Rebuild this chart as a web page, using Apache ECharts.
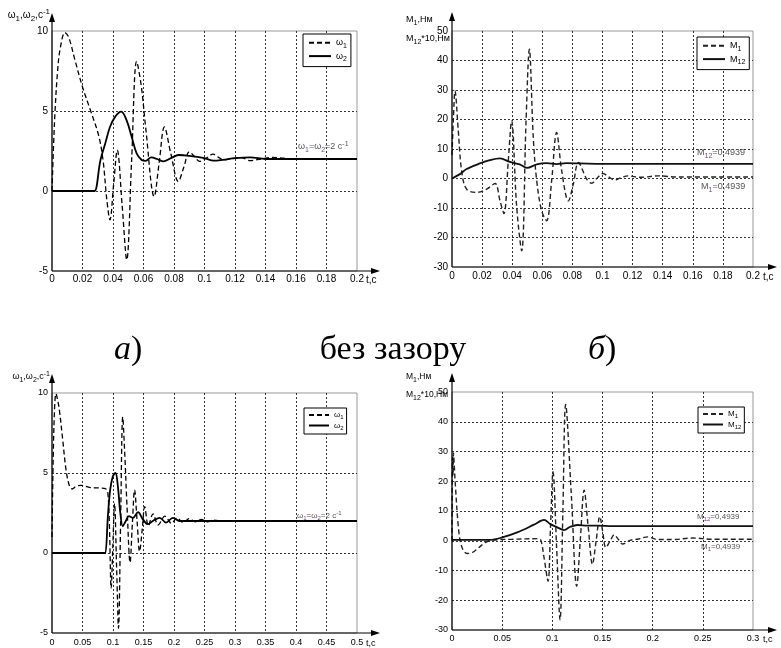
<!DOCTYPE html>
<html><head><meta charset="utf-8">
<script src="https://cdn.jsdelivr.net/npm/echarts@6/dist/echarts.min.js"></script>
<style>html,body{margin:0;padding:0;background:#fff}#c{width:781px;height:648px}</style>
</head><body><div id="c"></div>
<script>
// ---------- DATA ----------
// (a) top-left: angular speeds, no gap
const tA_w1 = [0,0.001,0.002,0.0035,0.0052,0.0085,0.011,0.015,0.02,0.025,0.0305,0.0335,0.036,0.038,0.0404,0.0428,0.046,0.049,0.0522,0.0555,0.0585,0.0615,0.067,0.0703,0.0737,0.078,0.0828,0.0865,0.09,0.0935,0.0968,0.101,0.1056,0.109,0.1126,0.118,0.124,0.13,0.137,0.145,0.152,0.16,0.17,0.2];
const vA_w1 = [0,2.8,5.0,7.3,8.8,9.9,9.6,8.2,6.5,5.1,3.5,1.9,-0.6,-1.8,0.4,2.55,-0.9,-4.3,1.9,8.1,6.6,3.9,-0.35,1.8,4.0,2.3,0.6,1.5,2.45,2.15,1.85,2.05,2.3,2.12,1.95,2.02,2.08,1.9,2.0,2.1,2.05,2.0,2.0,2.0];
const tA_w2 = [0,0.0265,0.028,0.0317,0.035,0.038,0.0415,0.0454,0.049,0.0522,0.0555,0.0588,0.0615,0.065,0.069,0.073,0.078,0.083,0.09,0.1,0.106,0.112,0.12,0.13,0.14,0.2];
const vA_w2 = [0,0,0,1.9,3.0,4.0,4.65,4.96,4.4,3.4,2.35,1.94,1.88,2.1,2.0,1.85,2.05,2.25,2.2,2.05,1.9,1.95,2.05,2.1,2.0,2.0];
// (b) top-right: torques, no gap
const tB_m1 = [0,0.0009,0.002,0.0042,0.0064,0.0097,0.0164,0.023,0.0286,0.0319,0.0345,0.0374,0.0396,0.043,0.0463,0.0492,0.0514,0.054,0.0563,0.0596,0.0629,0.0662,0.0695,0.0729,0.0773,0.0806,0.084,0.0895,0.0928,0.0965,0.1003,0.104,0.108,0.112,0.117,0.125,0.137,0.15,0.2];
const vB_m1 = [8,20,29.7,16,2.6,-3.6,-4.7,-3.6,-1.7,-7.6,-11.9,6,19.5,-9.8,-24.5,19.5,43.8,13.9,-0.8,-11,-14.3,-0.8,15.6,2.6,-7.6,-1.9,5.4,-0.2,-1.6,0.2,1.7,0.6,-0.5,0.2,0.9,0.4,0.9,0.5,0.5];
const tB_m12 = [0,0.005,0.0097,0.0186,0.0252,0.0319,0.0385,0.045,0.0498,0.0563,0.063,0.0695,0.076,0.085,0.1,0.2];
const vB_m12 = [0,1.4,3.2,5.1,6.2,6.8,5.6,4.8,3.6,4.8,5.2,4.9,5.2,5.1,4.94,4.94];
// (c) bottom-left: angular speeds, with gap
const tC_w1 = [0,0.002,0.0045,0.0066,0.009,0.012,0.0175,0.023,0.0285,0.033,0.0395,0.0477,0.061,0.078,0.0885,0.0915,0.094,0.097,0.0998,0.1025,0.106,0.109,0.1125,0.116,0.1195,0.123,0.128,0.1317,0.1354,0.1395,0.1436,0.148,0.152,0.158,0.1656,0.174,0.185,0.196,0.205,0.215,0.225,0.235,0.245,0.255,0.265,0.28,0.35];
const vC_w1 = [1,6,9.3,9.96,9.6,8.96,7.1,5.2,4.2,4.0,4.17,4.23,4.1,4.06,4.0,3.75,1.9,-2.2,0.5,3.1,-1.0,-4.7,2.0,8.5,6.0,2.9,-0.6,1.8,3.95,2.0,0.1,1.5,2.9,1.7,2.45,1.75,2.3,1.85,2.2,1.9,2.15,1.95,2.1,1.95,2.05,2.0,2.0];
const tC_w2 = [0,0.0855,0.0875,0.0916,0.0954,0.0998,0.104,0.108,0.112,0.116,0.121,0.126,0.1327,0.141,0.149,0.157,0.167,0.1765,0.187,0.198,0.209,0.22,0.5];
const vC_w2 = [0,0,0,2.3,3.96,4.8,5.0,4.17,2.5,1.67,2.0,2.3,2.2,2.55,2.1,1.8,2.05,2.2,1.9,2.2,2.0,2.0,2.0];
// (d) bottom-right: torques, with gap
const tD_m1 = [0,0.0005,0.001,0.0015,0.002,0.0033,0.0067,0.01,0.015,0.02,0.0267,0.033,0.04,0.06,0.085,0.0885,0.0917,0.0957,0.0982,0.1007,0.1042,0.1077,0.1105,0.1133,0.119,0.1243,0.128,0.1317,0.1358,0.14,0.1437,0.1473,0.1503,0.1533,0.1575,0.1617,0.1658,0.17,0.178,0.186,0.195,0.205,0.22,0.24,0.26,0.3];
const vD_m1 = [0,28,22,29.5,27,19,3.4,-2.3,-4.3,-4.0,-2.3,-0.6,0.2,0.5,0.7,0.2,-5.6,-13.6,4.8,23.2,-1.7,-26.6,9.6,45.8,15,-15.3,0.85,17,4.5,-7.9,0.1,8.1,2.9,-2.3,-0.15,2.0,0.45,-1.1,0.2,0.6,1.3,0.4,0.4,0.9,0.5,0.5];
const tD_m12 = [0,0.038,0.05,0.065,0.0817,0.0917,0.098,0.105,0.1117,0.118,0.125,0.135,0.145,0.16,0.3];
const vD_m12 = [0.3,0.3,1.1,2.8,5.4,7.0,5.6,4.5,3.6,4.7,5.3,5.1,5.1,4.94,4.94];
// axis ranges [min, max, interval]
const xRanges = [[0,0.2,0.02],[0,0.2,0.02],[0,0.5,0.05],[0,0.3,0.05]];
const yRanges = [[-5,10,5],[-30,50,10],[-5,10,5],[-30,50,10]];

// ---------- LAYOUT ----------
const GRID = [
  {left:52, top:31, width:305, height:240},
  {left:452, top:31, width:301, height:236},
  {left:52, top:393, width:305, height:240},
  {left:452, top:392, width:301, height:238}];
const ARROW = [{top:13,right:380},{top:12,right:777},{top:374,right:380},{top:373,right:777}];
const LABEL_FS = [10,10,9,9];
const LABEL_MARGIN = [3,4,5,4];
const NAME_GAP = [9,10,9,10];
const F = '"Liberation Sans", Arial, sans-serif';

const zip = (t,v) => t.map((x,i)=>[x, v[i]]);

function rich(sz, useFill, mainCol, subCol) {
  const c = useFill ? 'fill' : 'color';
  const sub = Math.round(sz*0.78);
  return {
    m: {fontSize:sz, lineHeight:sz+1, fontFamily:F, [c]:mainCol},
    s: {fontSize:sub, padding:[Math.round(sz*0.65),0,0,0], fontFamily:F, [c]:subCol},
    p: {fontSize:sub, verticalAlign:'top', fontFamily:F, [c]:mainCol}
  };
}

const dash = [5,3];
function mk(name, i, t, v, dashed, color, width) {
  return {type:'line', name, xAxisIndex:i, yAxisIndex:i, data:zip(t,v),
    showSymbol:false, symbol:'none', smooth:0.35, silent:true, animation:false,
    color, itemStyle:{color},
    lineStyle:{color, width, type: dashed ? dash : 'solid'}, z: dashed ? 3 : 4};
}
const series = [
  mk('ω1',0,tA_w1,vA_w1,true,'#000',1.3),
  mk('ω2',0,tA_w2,vA_w2,false,'#000',1.8),
  mk('M1',1,tB_m1,vB_m1,true,'#222',1.4),
  mk('M12',1,tB_m12,vB_m12,false,'#111',1.8),
  mk('ω1',2,tC_w1,vC_w1,true,'#000',1.3),
  mk('ω2',2,tC_w2,vC_w2,false,'#000',1.8),
  mk('M1',3,tD_m1,vD_m1,true,'#222',1.4),
  mk('M12',3,tD_m12,vD_m12,false,'#111',1.8)
];

const xAxis = GRID.map((g,i)=>({type:'value', gridIndex:i, min:xRanges[i][0], max:xRanges[i][1], interval:xRanges[i][2],
  axisLine:{show:false, onZero:false}, axisTick:{show:false},
  splitLine:{show:true, showMinLine:false, showMaxLine:false, lineStyle:{color:'#333', width:1, type:[2,2]}},
  axisLabel:{fontSize:LABEL_FS[i], color:'#000', fontFamily:F, margin:LABEL_MARGIN[i]}}));
const yAxis = GRID.map((g,i)=>({type:'value', gridIndex:i, min:yRanges[i][0], max:yRanges[i][1], interval:yRanges[i][2],
  axisLine:{show:false, onZero:false}, axisTick:{show:false},
  splitLine:{show:true, showMinLine:false, showMaxLine:false, lineStyle:{color:'#333', width:1, type:[2,2]}},
  axisLabel:{fontSize:LABEL_FS[i], color:'#000', fontFamily:F, margin:4}}));

const LEG = {'ω1':'{m|ω}{s|1}','ω2':'{m|ω}{s|2}','M1':'{m|M}{s|1}','M12':'{m|M}{s|12}'};
function legend(data, left, top, big) {
  return {data, left, top, orient:'vertical', selectedMode:false,
    backgroundColor:'#fff', borderColor:'#000', borderWidth:1,
    padding: big ? [4,4,4,5] : [3,3,3,4], itemGap: big ? 2 : 1,
    itemWidth: big ? 22 : 20, itemHeight: big ? 12 : 10,
    itemStyle:{opacity:0},
    formatter: n => LEG[n],
    textStyle:{color:'#000', fontFamily:F, rich: rich(big ? 9 : 8, false, '#000', '#000')}};
}
const legends = [
  legend(['ω1','ω2'], 303, 34, true),
  legend(['M1','M12'], 697, 37, true),
  legend(['ω1','ω2'], 304, 408, false),
  legend(['M1','M12'], 698, 407, false)
];

// ---------- GRAPHIC (axes with arrows, titles, captions) ----------
const G = [];
GRID.forEach((g,i)=>{
  const b = g.top + g.height, a = ARROW[i];
  const st = {stroke:'#000', lineWidth:1.2};
  G.push({type:'line', silent:true, z:50, shape:{x1:g.left, y1:b, x2:g.left, y2:a.top+7}, style:st});
  G.push({type:'polygon', silent:true, z:50, shape:{points:[[g.left,a.top],[g.left-3,a.top+9],[g.left+3,a.top+9]]}, style:{fill:'#000'}});
  G.push({type:'line', silent:true, z:50, shape:{x1:g.left, y1:b, x2:a.right-7, y2:b}, style:st});
  G.push({type:'polygon', silent:true, z:50, shape:{points:[[a.right,b],[a.right-9,b-3],[a.right-9,b+3]]}, style:{fill:'#000'}});
  // x-axis name "t,c" next to the last tick label
  G.push({type:'text', silent:true, z:60, x:g.left+g.width+NAME_GAP[i], y:b+LABEL_MARGIN[i]+LABEL_FS[i]/2+1,
    style:{text:'t,c', fill:'#000', fontSize:LABEL_FS[i], fontFamily:F, align:'left', verticalAlign:'middle'}});
});
function txt(text, x, y, align, sz, mainCol, subCol) {
  return {type:'text', silent:true, z:60, x, y,
    style:{text, align, verticalAlign:'middle', rich: rich(sz, true, mainCol, subCol)}};
}
// axis titles
G.push(txt('{m|ω}{s|1}{m|,ω}{s|2}{m|,c}{p|-1}', 50, 15, 'right', 10, '#000', '#000'));
G.push(txt('{m|M}{s|1}{m|,Нм}', 406, 20, 'left', 9, '#000', '#000'));
G.push(txt('{m|M}{s|12}{m|*10,Нм}', 406, 39, 'left', 9, '#000', '#000'));
G.push(txt('{m|ω}{s|1}{m|,ω}{s|2}{m|,c}{p|-1}', 50, 377, 'right', 9, '#000', '#000'));
G.push(txt('{m|M}{s|1}{m|,Нм}', 406, 377, 'left', 8.5, '#000', '#000'));
G.push(txt('{m|M}{s|12}{m|*10,Нм}', 406, 395, 'left', 8.5, '#000', '#000'));
// steady-state annotations
const ANN = '#555', SUB = '#7b3f9e';
G.push(txt('{m|ω}{s|1}{m|=ω}{s|2}{m|=2 c}{p|-1}', 298, 147, 'left', 9, ANN, SUB));
G.push(txt('{m|M}{s|12}{m|=0,4939}', 697, 153, 'left', 9, ANN, SUB));
G.push(txt('{m|M}{s|1}{m|=0,4939}', 701, 187, 'left', 9, ANN, SUB));
G.push(txt('{m|ω}{s|1}{m|=ω}{s|2}{m|=2 c}{p|-1}', 297, 516, 'left', 8, ANN, SUB));
G.push(txt('{m|M}{s|12}{m|=0,4939}', 697, 517, 'left', 8, ANN, SUB));
G.push(txt('{m|M}{s|1}{m|=0,4939}', 701, 547, 'left', 8, ANN, SUB));
// captions
const SERIF = '"Liberation Serif", "Times New Roman", serif';
const capRich = {i:{fontSize:34, fontStyle:'italic', fontFamily:SERIF, fill:'#000'}, n:{fontSize:34, fontFamily:SERIF, fill:'#000'}};
G.push({type:'text', silent:true, z:60, x:114, y:350, style:{text:'{i|а}{n|)}', rich:capRich, align:'left', verticalAlign:'middle'}});
G.push({type:'text', silent:true, z:60, x:393, y:350, style:{text:'{n|без зазору}', rich:capRich, align:'center', verticalAlign:'middle'}});
G.push({type:'text', silent:true, z:60, x:588, y:350, style:{text:'{i|б}{n|)}', rich:capRich, align:'left', verticalAlign:'middle'}});

const chart = echarts.init(document.getElementById('c'), null, {renderer:'canvas'});
chart.setOption({
  animation:false,
  backgroundColor:'#fff',
  grid: GRID.map(g=>Object.assign({show:true, borderColor:'#999', borderWidth:1, backgroundColor:'#fff', containLabel:false}, g)),
  xAxis, yAxis, legend: legends, series,
  graphic:{elements:G}
});
</script></body></html>
